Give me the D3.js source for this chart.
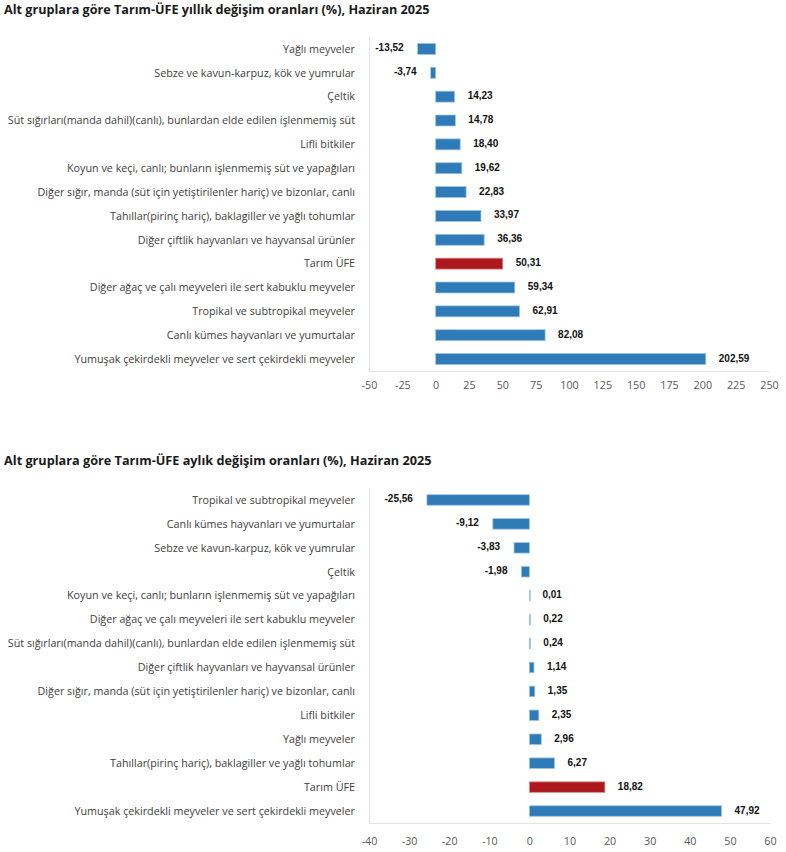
<!DOCTYPE html>
<html>
<head>
<meta charset="utf-8">
<title>Tarım-ÜFE alt gruplar</title>
<style>
  body { margin: 0; background: #fff; }
  .title { font-family: "Open Sans", "Noto Sans", sans-serif; font-weight: 700; font-size: 13.5px; fill: #1a1a1a; }
  .cat { font-family: "Open Sans", "Noto Sans", sans-serif; font-size: 10.75px; fill: #404040; }
  .tick-lbl { font-family: "Open Sans", "Noto Sans", sans-serif; font-size: 10.75px; fill: #595959; }
  .val { font-family: "Liberation Sans", Arial, sans-serif; font-weight: 700; font-size: 10px; fill: #111; }
  .frame { stroke: #e3e3e3; stroke-width: 1; }
</style>
</head>
<body>
<svg width="786" height="852"></svg>
<script src="https://cdn.jsdelivr.net/npm/d3@7"></script>
<script>
// yıllık değişim (%)
var yillikKategori = [
  "Yağlı meyveler",
  "Sebze ve kavun-karpuz, kök ve yumrular",
  "Çeltik",
  "Süt sığırları(manda dahil)(canlı), bunlardan elde edilen işlenmemiş süt",
  "Lifli bitkiler",
  "Koyun ve keçi, canlı; bunların işlenmemiş süt ve yapağıları",
  "Diğer sığır, manda (süt için yetiştirilenler hariç) ve bizonlar, canlı",
  "Tahıllar(pirinç hariç), baklagiller ve yağlı tohumlar",
  "Diğer çiftlik hayvanları ve hayvansal ürünler",
  "Tarım ÜFE",
  "Diğer ağaç ve çalı meyveleri ile sert kabuklu meyveler",
  "Tropikal ve subtropikal meyveler",
  "Canlı kümes hayvanları ve yumurtalar",
  "Yumuşak çekirdekli meyveler ve sert çekirdekli meyveler"
];
var yillikDeger = [-13.52, -3.74, 14.23, 14.78, 18.40, 19.62, 22.83, 33.97, 36.36, 50.31, 59.34, 62.91, 82.08, 202.59];
var yillikTick = [-50, -25, 0, 25, 50, 75, 100, 125, 150, 175, 200, 225, 250];

// aylık değişim (%)
var aylikKategori = [
  "Tropikal ve subtropikal meyveler",
  "Canlı kümes hayvanları ve yumurtalar",
  "Sebze ve kavun-karpuz, kök ve yumrular",
  "Çeltik",
  "Koyun ve keçi, canlı; bunların işlenmemiş süt ve yapağıları",
  "Diğer ağaç ve çalı meyveleri ile sert kabuklu meyveler",
  "Süt sığırları(manda dahil)(canlı), bunlardan elde edilen işlenmemiş süt",
  "Diğer çiftlik hayvanları ve hayvansal ürünler",
  "Diğer sığır, manda (süt için yetiştirilenler hariç) ve bizonlar, canlı",
  "Lifli bitkiler",
  "Yağlı meyveler",
  "Tahıllar(pirinç hariç), baklagiller ve yağlı tohumlar",
  "Tarım ÜFE",
  "Yumuşak çekirdekli meyveler ve sert çekirdekli meyveler"
];
var aylikDeger = [-25.56, -9.12, -3.83, -1.98, 0.01, 0.22, 0.24, 1.14, 1.35, 2.35, 2.96, 6.27, 18.82, 47.92];
var aylikTick = [-40, -30, -20, -10, 0, 10, 20, 30, 40, 50, 60];

var vurgu = "Tarım ÜFE";
var svg = d3.select("svg");

// Türkçe biçim: virgül ondalık, düz tire eksi
var fmt = function(v){ return v.toFixed(2).replace(".", ","); };

drawChart({
  title: "Alt gruplara göre Tarım-ÜFE yıllık değişim oranları (%), Haziran 2025",
  titleY: 13.5, titleW: 426,
  cats: yillikKategori, vals: yillikDeger, ticks: yillikTick,
  x0: 369, x1: 769, top: 37, bottom: 371, tickY: 390, pad: 0.54
});
drawChart({
  title: "Alt gruplara göre Tarım-ÜFE aylık değişim oranları (%), Haziran 2025",
  titleY: 465, titleW: 428,
  cats: aylikKategori, vals: aylikDeger, ticks: aylikTick,
  x0: 369, x1: 770, top: 488, bottom: 823, tickY: 846, pad: 0.56
});

function drawChart(o) {
  var g = svg.append("g");
  var data = o.cats.map(function(c, i){ return {cat: c, v: o.vals[i]}; });

  var x = d3.scaleLinear()
      .domain(d3.extent(o.ticks))
      .range([o.x0, o.x1]);
  var y = d3.scaleBand()
      .domain(o.cats)
      .range([o.top, o.bottom])
      .paddingInner(o.pad)
      .paddingOuter(o.pad / 2);

  var t = g.append("text").attr("class", "title")
      .attr("x", 4).attr("y", o.titleY)
      .text(o.title);
  // başlık genişliğini referansa oturt
  var w = t.node().getComputedTextLength();
  t.style("font-size", (13.5 * o.titleW / w) + "px");

  // sol ve alt çizgiler
  g.append("line").attr("class", "frame")
      .attr("x1", o.x0 + 0.5).attr("x2", o.x0 + 0.5)
      .attr("y1", o.top).attr("y2", o.bottom);
  g.append("line").attr("class", "frame")
      .attr("x1", o.x0).attr("x2", o.x1)
      .attr("y1", o.bottom + 0.5).attr("y2", o.bottom + 0.5);

  // x ekseni etiketleri
  var ax = g.append("g")
      .attr("transform", "translate(0," + (o.tickY - 9) + ")")
      .call(d3.axisBottom(x).tickValues(o.ticks).tickSize(0).tickPadding(0)
        .tickFormat(function(d){ return String(d); }));
  ax.select(".domain").remove();
  ax.selectAll("text").attr("class", "tick-lbl").attr("fill", null)
      .attr("dy", "0.71em");
  ax.attr("font-family", null).attr("font-size", null);

  // kategori etiketleri
  g.selectAll(".cat").data(data).enter().append("text")
      .attr("class", "cat")
      .attr("x", o.x0 - 14)
      .attr("y", function(d){ return y(d.cat) + y.bandwidth() / 2; })
      .attr("dy", "0.35em")
      .attr("text-anchor", "end")
      .text(function(d){ return d.cat; });

  // çubuklar
  g.selectAll(".bar").data(data).enter().append("rect")
      .attr("x", function(d){ return x(Math.min(0, d.v)); })
      .attr("y", function(d){ return y(d.cat); })
      .attr("width", function(d){ return Math.max(0.8, Math.abs(x(d.v) - x(0))); })
      .attr("height", y.bandwidth())
      .attr("fill", function(d){ return d.cat === vurgu ? "#ad181d" : "#2e7bb8"; })
      .attr("stroke", function(d){ return d.cat === vurgu ? "#e08b8e" : "#9cc4e4"; })
      .attr("stroke-width", 0.8);

  // değer etiketleri
  g.selectAll(".val").data(data).enter().append("text")
      .attr("class", "val")
      .attr("x", function(d){ return d.v < 0 ? x(d.v) - 14 : x(d.v) + 13; })
      .attr("y", function(d){ return y(d.cat) + y.bandwidth() / 2 - 1; })
      .attr("dy", "0.35em")
      .attr("text-anchor", function(d){ return d.v < 0 ? "end" : "start"; })
      .text(function(d){ return fmt(d.v); });
}
</script>
</body>
</html>
